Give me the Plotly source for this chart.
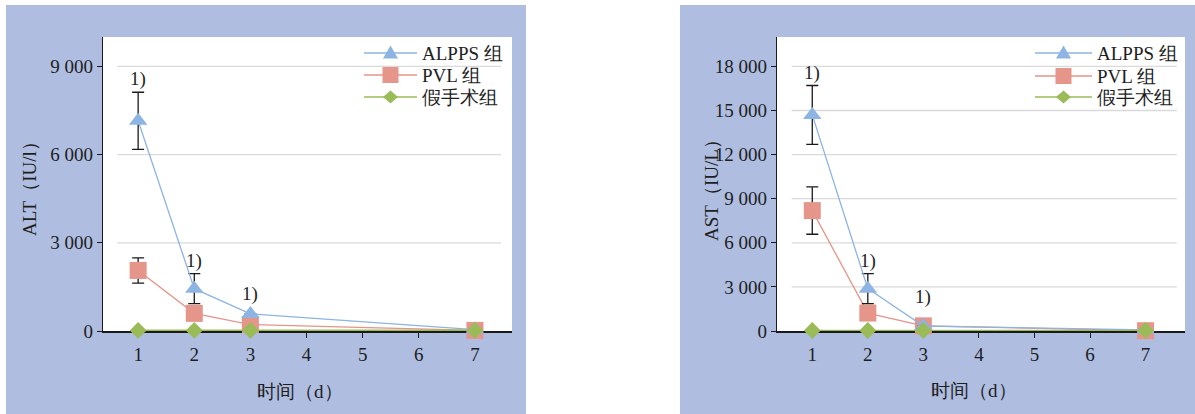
import plotly.graph_objects as go

# ---- data -------------------------------------------------------------
DAYS = [1, 2, 3, 7]
X_TICKS = [1, 2, 3, 4, 5, 6, 7]

ALT_ALPPS = [7150, 1440, 580, 50]
ALT_ALPPS_SD = [970, 510, 0, 0]
ALT_PVL = [2060, 600, 220, 20]
ALT_PVL_SD = [430, 0, 0, 0]
ALT_SHAM = [20, 20, 20, 20]
ALT_Y_TICKS = [0, 3000, 6000, 9000]
ALT_Y_LABELS = ["0", "3 000", "6 000", "9 000"]

AST_ALPPS = [14700, 2880, 340, 70]
AST_ALPPS_SD = [2000, 1020, 0, 0]
AST_PVL = [8190, 1220, 350, 20]
AST_PVL_SD = [1610, 0, 0, 0]
AST_SHAM = [30, 30, 30, 30]
AST_Y_TICKS = [0, 3000, 6000, 9000, 12000, 15000, 18000]
AST_Y_LABELS = ["0", "3 000", "6 000", "9 000", "12 000", "15 000", "18 000"]

SIG_DAYS = [1, 2, 3]          # ALPPS vs PVL, marked "1)"
SIG_MARK = "1)"

GROUPS = ["ALPPS 组", "PVL 组", "假手术组"]
X_TITLE = "时间（d）"
ALT_TITLE = "ALT（IU/l）"
AST_TITLE = "AST（IU/L）"

# ---- style ------------------------------------------------------------
W, H = 1195, 414
BLUE_BG = "#AEBDE0"
C_ALPPS = "#8DB4E2"
C_PVL = "#E6958A"
C_SHAM = "#9BBB59"
TXT = "#1e1e1e"
FONT = "Liberation Serif"


def px(x):
    return x / W


def py(y):
    return 1 - y / H


def glyph_path(kind, cx, cy):
    """Small legend-key glyph (triangle / square / diamond) in paper units."""
    if kind == "triangle":
        pts = [(cx - 7.5, cy + 5.5), (cx + 7.5, cy + 5.5), (cx, cy - 7.5)]
    elif kind == "square":
        pts = [(cx - 8, cy - 8), (cx + 8, cy - 8), (cx + 8, cy + 8), (cx - 8, cy + 8)]
    else:
        pts = [(cx - 7.5, cy), (cx, cy - 6.5), (cx + 7.5, cy), (cx, cy + 6.5)]
    return "M" + " L".join(f"{px(x):.5f},{py(y):.5f}" for x, y in pts) + " Z"


fig = go.Figure()

panels = [
    dict(xa="x", ya="y",
         bg=(6, 526), plot=(103, 512), xrange=[0.374, 7.66], grid=(0.035, 0.973),
         alpps=ALT_ALPPS, alpps_sd=ALT_ALPPS_SD, pvl=ALT_PVL, pvl_sd=ALT_PVL_SD,
         sham=ALT_SHAM, yticks=ALT_Y_TICKS, ylabels=ALT_Y_LABELS, yrange=[0, 10000],
         ytitle=ALT_TITLE, ytitle_pos=(29, 184), xtitle_pos=(300, 391), lift=7,
         key_x=(364, 417), key_rows=(53, 75, 97)),
    dict(xa="x2", ya="y2",
         bg=(680, 1200), plot=(777, 1185), xrange=[0.365, 7.71], grid=(0.036, 0.98),
         alpps=AST_ALPPS, alpps_sd=AST_ALPPS_SD, pvl=AST_PVL, pvl_sd=AST_PVL_SD,
         sham=AST_SHAM, yticks=AST_Y_TICKS, ylabels=AST_Y_LABELS, yrange=[0, 20000],
         ytitle=AST_TITLE, ytitle_pos=(711, 186), xtitle_pos=(974, 390), lift=16,
         key_x=(1035, 1092), key_rows=(53, 76, 97)),
]

PLOT_TOP, PLOT_BOTTOM = 37, 331
shapes = []
annotations = []
txt_font = dict(family=FONT, size=19, color=TXT)

for p in panels:
    # panel background and white plotting area
    shapes.append(dict(type="rect", xref="paper", yref="paper",
                       x0=px(p["bg"][0]), x1=px(p["bg"][1]), y0=0, y1=py(5),
                       fillcolor=BLUE_BG, line_width=0, layer="below"))
    shapes.append(dict(type="rect", xref="paper", yref="paper",
                       x0=px(p["plot"][0]), x1=px(p["plot"][1]),
                       y0=py(PLOT_BOTTOM), y1=py(PLOT_TOP),
                       fillcolor="white", line_width=0, layer="below"))
    # horizontal gridlines that stop short of both axes
    for v in p["yticks"][1:]:
        shapes.append(dict(type="line", xref=p["xa"] + " domain", yref=p["ya"],
                           x0=p["grid"][0], x1=p["grid"][1], y0=v, y1=v,
                           line=dict(color="#DADADA", width=1.3), layer="below"))

    common = dict(xaxis=p["xa"], yaxis=p["ya"], showlegend=False,
                  mode="lines+markers", cliponaxis=False, hoverinfo="x+y")
    fig.add_trace(go.Scatter(
        x=DAYS, y=p["pvl"], name=GROUPS[1],
        line=dict(color=C_PVL, width=1.3),
        marker=dict(symbol="square", size=17, color=C_PVL),
        error_y=dict(type="data", array=p["pvl_sd"], visible=True,
                     color="#1a1a1a", thickness=1.3, width=6),
        **common))
    fig.add_trace(go.Scatter(
        x=DAYS, y=p["alpps"], name=GROUPS[0],
        line=dict(color=C_ALPPS, width=1.3),
        marker=dict(symbol="triangle-up", size=16, color=C_ALPPS),
        error_y=dict(type="data", array=p["alpps_sd"], visible=True,
                     color="#1a1a1a", thickness=1.3, width=6),
        **common))
    fig.add_trace(go.Scatter(
        x=DAYS, y=p["sham"], name=GROUPS[2],
        line=dict(color=C_SHAM, width=1.6),
        marker=dict(symbol="diamond", size=13, color=C_SHAM),
        **common))

    # significance marks above the ALPPS points
    for d in SIG_DAYS:
        i = DAYS.index(d)
        sd = p["alpps_sd"][i]
        annotations.append(dict(
            x=d, y=p["alpps"][i] + sd, xref=p["xa"], yref=p["ya"],
            text=SIG_MARK, showarrow=False, yanchor="bottom",
            yshift=0 if sd else p["lift"], font=txt_font))

    # legend: long line key with a centred glyph, then the group name
    x0, x1 = p["key_x"]
    xm = (x0 + x1) / 2
    for name, col, kind, row in zip(GROUPS, [C_ALPPS, C_PVL, C_SHAM],
                                    ["triangle", "square", "diamond"], p["key_rows"]):
        shapes.append(dict(type="line", xref="paper", yref="paper",
                           x0=px(x0), x1=px(x1), y0=py(row), y1=py(row),
                           line=dict(color=col, width=1.4)))
        shapes.append(dict(type="path", xref="paper", yref="paper",
                           path=glyph_path(kind, xm, row),
                           fillcolor=col, line_width=0))
        annotations.append(dict(x=px(x1 + 3), y=py(row), xref="paper", yref="paper",
                                text=name, showarrow=False, xanchor="left",
                                yanchor="middle", font=txt_font))

    # axis titles
    annotations.append(dict(x=px(p["ytitle_pos"][0]), y=py(p["ytitle_pos"][1]),
                            xref="paper", yref="paper", text=p["ytitle"],
                            textangle=-90, showarrow=False,
                            xanchor="center", yanchor="middle", font=txt_font))
    annotations.append(dict(x=px(p["xtitle_pos"][0]), y=py(p["xtitle_pos"][1]),
                            xref="paper", yref="paper", text=X_TITLE,
                            showarrow=False, xanchor="center", yanchor="middle",
                            font=txt_font))

xcommon = dict(tickmode="array", tickvals=X_TICKS,
               ticks="outside", ticklen=5, tickwidth=1.3, tickcolor="#1a1a1a",
               showline=True, linecolor="#1a1a1a", linewidth=1.8,
               showgrid=False, zeroline=False, tickfont=txt_font,
               fixedrange=True, automargin=False, layer="below traces")
ycommon = dict(tickmode="array", ticks="outside", ticklen=5, tickwidth=1.3,
               tickcolor="#1a1a1a", showline=True, linecolor="#1a1a1a",
               linewidth=1.3, showgrid=False, zeroline=False,
               tickfont=txt_font, fixedrange=True, automargin=False,
               layer="below traces")

fig.update_layout(
    width=W, height=H,
    margin=dict(l=0, r=0, t=0, b=0, pad=0, autoexpand=False),
    paper_bgcolor="white", plot_bgcolor="rgba(0,0,0,0)",
    xaxis=dict(domain=[px(103), px(512)], anchor="y", range=panels[0]["xrange"],
               **xcommon),
    yaxis=dict(domain=[py(PLOT_BOTTOM), py(PLOT_TOP)], anchor="x",
               range=[0, 10000], tickvals=ALT_Y_TICKS, ticktext=ALT_Y_LABELS,
               **ycommon),
    xaxis2=dict(domain=[px(777), px(1185)], anchor="y2", range=panels[1]["xrange"],
                **xcommon),
    yaxis2=dict(domain=[py(PLOT_BOTTOM), py(PLOT_TOP)], anchor="x2",
                range=[0, 20000], tickvals=AST_Y_TICKS, ticktext=AST_Y_LABELS,
                **ycommon),
    showlegend=False,
    shapes=shapes,
    annotations=annotations,
)

fig.write_html("out.html")
